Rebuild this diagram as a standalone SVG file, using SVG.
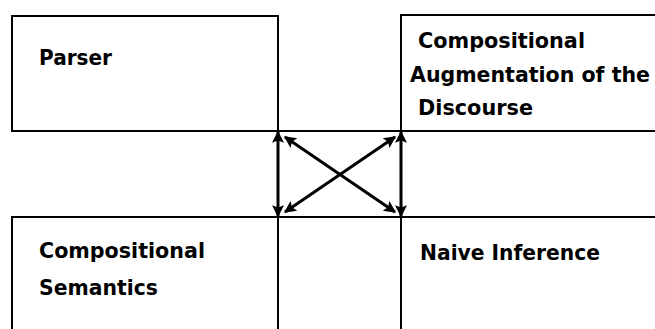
<svg xmlns="http://www.w3.org/2000/svg" width="655" height="329" viewBox="0 0 655 329">
<defs>
<style>
.box{fill:none;stroke:#000;stroke-width:2}
.ln{fill:none;stroke:#000;stroke-width:2}
.conn{fill:none;stroke:#000;stroke-width:3;marker-start:url(#ah);marker-end:url(#ah)}
text{font-family:"DejaVu Sans","Liberation Sans",sans-serif;font-weight:bold;font-size:22px;fill:#000}
.tight{font-size:20.5px}
</style>
<marker id="ah" viewBox="0 0 10 10" refX="9" refY="5" markerWidth="14" markerHeight="12" markerUnits="userSpaceOnUse" orient="auto-start-reverse">
<path d="M0,0 L10,5 L0,10 L2,5 Z" fill="#000"/>
</marker>
</defs>
<rect width="655" height="329" fill="#fff"/>
<g id="frame">
<line class="ln" x1="278" y1="131" x2="401" y2="131"/>
<line class="ln" x1="278" y1="217" x2="401" y2="217"/>
</g>
<g id="parser">
<rect class="box" x="12" y="16" width="266" height="115"/>
<text x="39" y="65" textLength="73" lengthAdjust="spacingAndGlyphs">Parser</text>
</g>
<g id="augmentation">
<path class="box" d="M655,15 L401,15 L401,131 L655,131"/>
<text x="418" y="48" textLength="167" lengthAdjust="spacingAndGlyphs">Compositional</text>
<text class="tight" x="410" y="82" textLength="240" lengthAdjust="spacingAndGlyphs">Augmentation of the</text>
<text x="418" y="115" textLength="115" lengthAdjust="spacingAndGlyphs">Discourse</text>
</g>
<g id="semantics">
<path class="box" d="M12,329 L12,217 L278,217 L278,329"/>
<text x="39" y="258" textLength="166" lengthAdjust="spacingAndGlyphs">Compositional</text>
<text x="39" y="295" textLength="119" lengthAdjust="spacingAndGlyphs">Semantics</text>
</g>
<g id="naive">
<path class="box" d="M401,329 L401,217 L655,217"/>
<text x="420" y="260" textLength="180" lengthAdjust="spacingAndGlyphs">Naive Inference</text>
</g>
<g id="connectors">
<line class="conn" x1="278" y1="132" x2="278" y2="216"/>
<line class="conn" x1="401" y1="132" x2="401" y2="216"/>
<line class="conn" x1="285" y1="137" x2="395" y2="212"/>
<line class="conn" x1="395" y1="137" x2="285" y2="212"/>
</g>
</svg>
